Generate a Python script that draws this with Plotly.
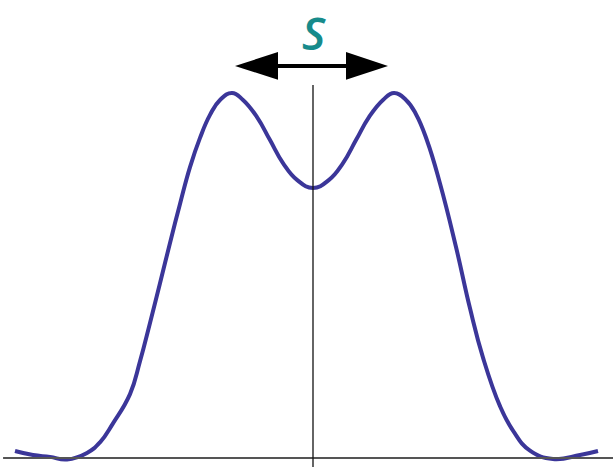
import plotly.graph_objects as go

# curve (x: offset from centre, y: relative to peak)
x_vals = [-2.98, -2.80, -2.63, -2.46, -2.26, -2.13, -2.00, -1.83, -1.73,
          -1.63, -1.53, -1.43, -1.33, -1.23, -1.13, -1.03, -0.93, -0.81, -0.70,
          -0.56, -0.43, -0.30, -0.16, 0.00, 0.16, 0.30, 0.43, 0.56, 0.70,
          0.81, 0.93, 1.03, 1.14, 1.27, 1.43, 1.57, 1.70, 1.87, 2.00,
          2.17, 2.40, 2.67, 2.85]
y_vals = [0.019, 0.008, 0.003, -0.004, 0.014, 0.043, 0.095, 0.175, 0.265,
          0.370, 0.479, 0.589, 0.696, 0.797, 0.877, 0.940, 0.981, 1.000, 0.981,
          0.934, 0.871, 0.808, 0.762, 0.740, 0.762, 0.808, 0.871, 0.934, 0.981,
          1.000, 0.981, 0.942, 0.870, 0.752, 0.578, 0.410, 0.275, 0.142, 0.075,
          0.020, -0.003, 0.008, 0.019]

label_text = "S"

fig = go.Figure()
fig.add_trace(go.Scatter(
    x=x_vals, y=y_vals, mode="lines",
    line=dict(color="#3b3699", width=4, shape="spline", smoothing=1.3),
    hoverinfo="skip", showlegend=False,
))

# axes drawn as plain lines
fig.add_shape(type="line", xref="paper", yref="y", x0=0.005, x1=1, y0=0, y1=0,
              line=dict(color="#555555", width=2))
fig.add_shape(type="line", xref="x", yref="y", x0=0, x1=0, y0=1.022, y1=-0.03,
              line=dict(color="#111111", width=1.3))

# double-headed arrow marking the separation
fig.add_shape(type="line", x0=-0.40, x1=0.39, y0=1.074, y1=1.074,
              line=dict(color="black", width=4))
fig.add_shape(type="path", path="M -0.78 1.074 L -0.35 1.112 L -0.35 1.036 Z",
              fillcolor="black", line=dict(width=0))
fig.add_shape(type="path", path="M 0.75 1.074 L 0.33 1.112 L 0.33 1.036 Z",
              fillcolor="black", line=dict(width=0))

fig.add_annotation(x=0.01, y=1.0, yref="paper", yanchor="top", text=label_text,
                   showarrow=False,
                   font=dict(family="Open Sans", size=45, color="#178b8b",
                             style="italic", weight=600))

fig.update_layout(
    width=613, height=467,
    margin=dict(l=0, r=0, t=0, b=0),
    paper_bgcolor="white", plot_bgcolor="white",
    xaxis=dict(range=[-3.13, 3.00], visible=False),
    yaxis=dict(range=[-0.0247, 1.2548], visible=False),
)

fig.write_html("out.html", config={"displayModeBar": False},
               post_script="document.body.style.margin='0';")
